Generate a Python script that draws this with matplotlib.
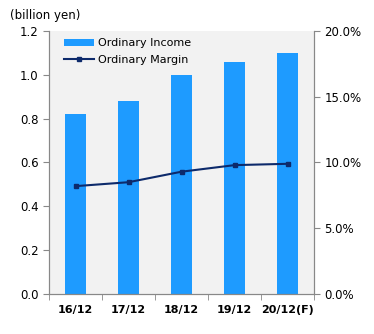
import numpy as np
import matplotlib.pyplot as plt
from matplotlib.ticker import FuncFormatter

years = ['16/12', '17/12', '18/12', '19/12', '20/12(F)']
income = [0.82, 0.88, 1.00, 1.06, 1.10]
margin = [8.2, 8.5, 9.3, 9.8, 9.9]

bar_col = '#1E9BFF'
line_col = '#0D2A6B'
grey = '#888888'

fig = plt.figure(figsize=(3.74, 3.34), dpi=100)
ax = fig.add_axes([0.131, 0.120, 0.709, 0.787])
ax.set_facecolor('#F2F2F2')

x = np.arange(len(years))
ax.bar(x, income, width=0.4, color=bar_col, label='Ordinary Income', zorder=2)
ax.set_xlim(-0.5, len(years) - 0.5)
ax.set_ylim(0, 1.2)
ax.set_yticks(np.arange(0, 1.21, 0.2))
ax.yaxis.set_major_formatter(FuncFormatter(lambda v, p: '%.1f' % v))

ax.set_xticks(x)
ax.set_xticklabels(years, fontweight='bold', fontsize=8)
ax.set_xticks(np.arange(-0.5, len(years)), minor=True)
ax.tick_params(axis='x', which='major', length=0, pad=8)
ax.tick_params(axis='x', which='minor', length=4, color=grey)
ax.tick_params(axis='y', labelsize=8.5, length=4, color=grey)

ax2 = ax.twinx()
ax2.plot(x, margin, color=line_col, lw=1.5, marker='s', ms=3.2,
         label='Ordinary Margin', zorder=3)
ax2.set_ylim(0, 20)
ax2.set_yticks(np.arange(0, 20.1, 5))
ax2.yaxis.set_major_formatter(FuncFormatter(lambda v, p: '%.1f%%' % v))
ax2.tick_params(axis='y', labelsize=8.5, length=4, color=grey)

for a in (ax, ax2):
    a.spines['top'].set_visible(False)
    for s in ('left', 'right', 'bottom'):
        a.spines[s].set_color(grey)

h1, l1 = ax.get_legend_handles_labels()
h2, l2 = ax2.get_legend_handles_labels()
ax2.legend(h1 + h2, l1 + l2, loc='upper left', frameon=False, fontsize=8,
           handlelength=2.7, handletextpad=0.3, bbox_to_anchor=(0.02, 1.01),
           labelspacing=0.6)

fig.text(0.027, 0.955, '(billion yen)', fontsize=8.5, va='center')

fig.savefig('out.png', dpi=100)
